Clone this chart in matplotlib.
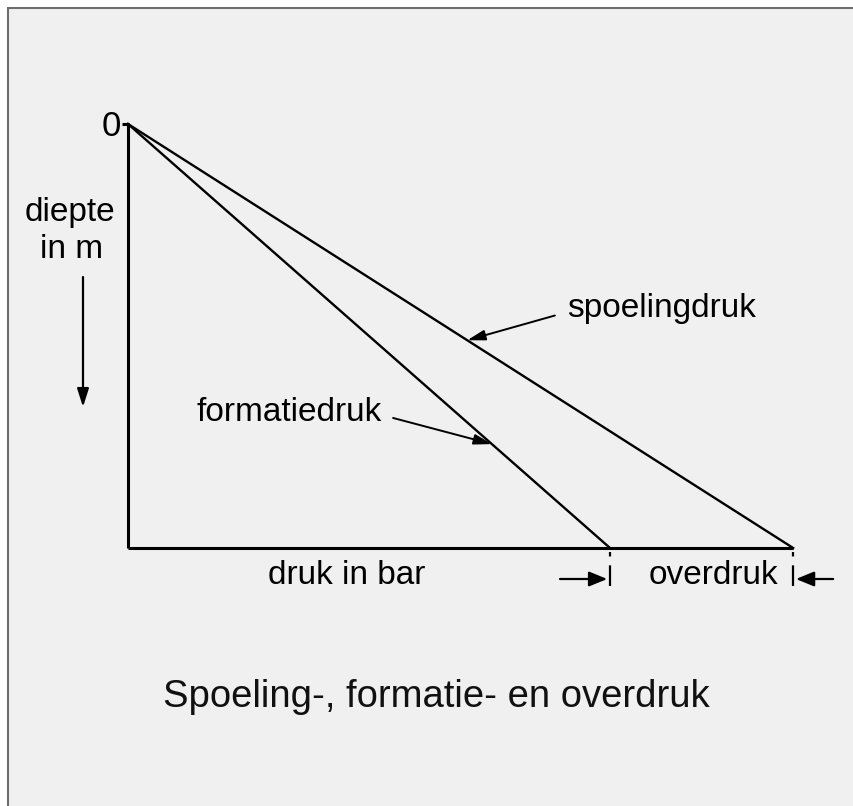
import matplotlib
matplotlib.use("Agg")
import matplotlib.pyplot as plt
from matplotlib.patches import Rectangle

# schematic values: depth in m, pressure in bar at the bottom of the hole
depth = [0, 1000]
formatiedruk = [0, 100]
spoelingdruk = [0, 138]

W, H = 854, 806
plt.rcParams['font.family'] = ['Liberation Sans', 'DejaVu Sans']

fig = plt.figure(figsize=(W / 100, H / 100), dpi=100, facecolor='white')

# background panel with grey frame on top/left (runs off the right and bottom edges)
fig.patches.append(Rectangle((8 / W, -0.1), 1.2, 1.1 - 8 / H, transform=fig.transFigure,
                             facecolor='#f0f0f0', edgecolor='#6e6e6e', lw=1.5, zorder=-5))

ax = fig.add_axes([0, 0, 1, 1])
ax.set_facecolor('none')
ax.axis('off')

# origin at pixel (128, 124); scale so that the data span fits the panel
x0, y0 = 128, 124
sx = 482 / formatiedruk[-1]
sy = 424 / depth[-1]
ax.set_xlim(-x0 / sx, (W - x0) / sx)
ax.set_ylim((H - y0) / sy, -y0 / sy)

def px(x, y):
    return (x / W, 1 - y / H)

lw = 1.7
# axes
ax.plot([-6 / sx, 0, 0], [depth[0], depth[0], depth[-1]], color='black', lw=2.2, solid_capstyle='butt')
ax.plot([0, spoelingdruk[-1]], [depth[-1], depth[-1]], color='black', lw=2.2, solid_capstyle='butt')
# pressure lines
ax.plot(formatiedruk, depth, color='black', lw=lw)
ax.plot(spoelingdruk, depth, color='black', lw=lw)

fs = 24
ax.text(*px(121, 126), '0', transform=fig.transFigure, ha='right', va='center', fontsize=25)
ax.text(*px(70, 212), 'diepte', transform=fig.transFigure, ha='center', va='center', fontsize=fs)
ax.text(*px(72, 249), 'in m', transform=fig.transFigure, ha='center', va='center', fontsize=fs)
ax.annotate('', xy=px(83, 407), xytext=px(83, 277), xycoords='figure fraction',
            arrowprops=dict(arrowstyle='-|>,head_length=1.1,head_width=0.35', color='black', lw=1.6,
                            shrinkA=0, shrinkB=0))

# labels with pointer arrows to the lines
head = '-|>,head_length=0.45,head_width=0.13'
f_sp = 0.51
ax.annotate('spoelingdruk', xy=(spoelingdruk[-1] * f_sp, depth[-1] * f_sp), xytext=px(567, 309),
            textcoords='figure fraction', ha='left', va='center', fontsize=fs,
            arrowprops=dict(arrowstyle=head, color='black', lw=1.4,
                            shrinkA=7, shrinkB=0, relpos=(0.0, 0.4)))
f_fo = 0.755
ax.annotate('formatiedruk', xy=(formatiedruk[-1] * f_fo, depth[-1] * f_fo), xytext=px(197, 412),
            textcoords='figure fraction', ha='left', va='center', fontsize=fs,
            arrowprops=dict(arrowstyle=head, color='black', lw=1.4,
                            shrinkA=6, shrinkB=0, relpos=(1.0, 0.4)))

ax.text(*px(347, 576), 'druk in bar', transform=fig.transFigure, ha='center', va='center', fontsize=fs)
ax.text(*px(713, 575), 'overdruk', transform=fig.transFigure, ha='center', va='center', fontsize=fs)

# overdruk dimension marks
d_dim = depth[-1] + 31 / sy
d_lo = depth[-1] + 38 / sy
for p in (formatiedruk[-1], spoelingdruk[-1]):
    ax.plot([p, p], [depth[-1] + 4 / sy, d_lo], color='black', lw=1.6, ls=(0, (2, 4, 14, 0)))
dim_head = '-|>,head_length=1.1,head_width=0.45'
ax.annotate('', xy=(formatiedruk[-1], d_dim), xytext=(formatiedruk[-1] - 50 / sx, d_dim),
            arrowprops=dict(arrowstyle=dim_head, color='black', lw=1.6, shrinkA=0, shrinkB=2))
ax.annotate('', xy=(spoelingdruk[-1], d_dim), xytext=(spoelingdruk[-1] + 40 / sx, d_dim),
            arrowprops=dict(arrowstyle=dim_head, color='black', lw=1.6, shrinkA=0, shrinkB=2))

ax.text(*px(436, 697), 'Spoeling-, formatie- en overdruk', transform=fig.transFigure,
        ha='center', va='center', fontsize=27.5, color='#111111')

fig.savefig('out.png', dpi=100, facecolor=fig.get_facecolor())
